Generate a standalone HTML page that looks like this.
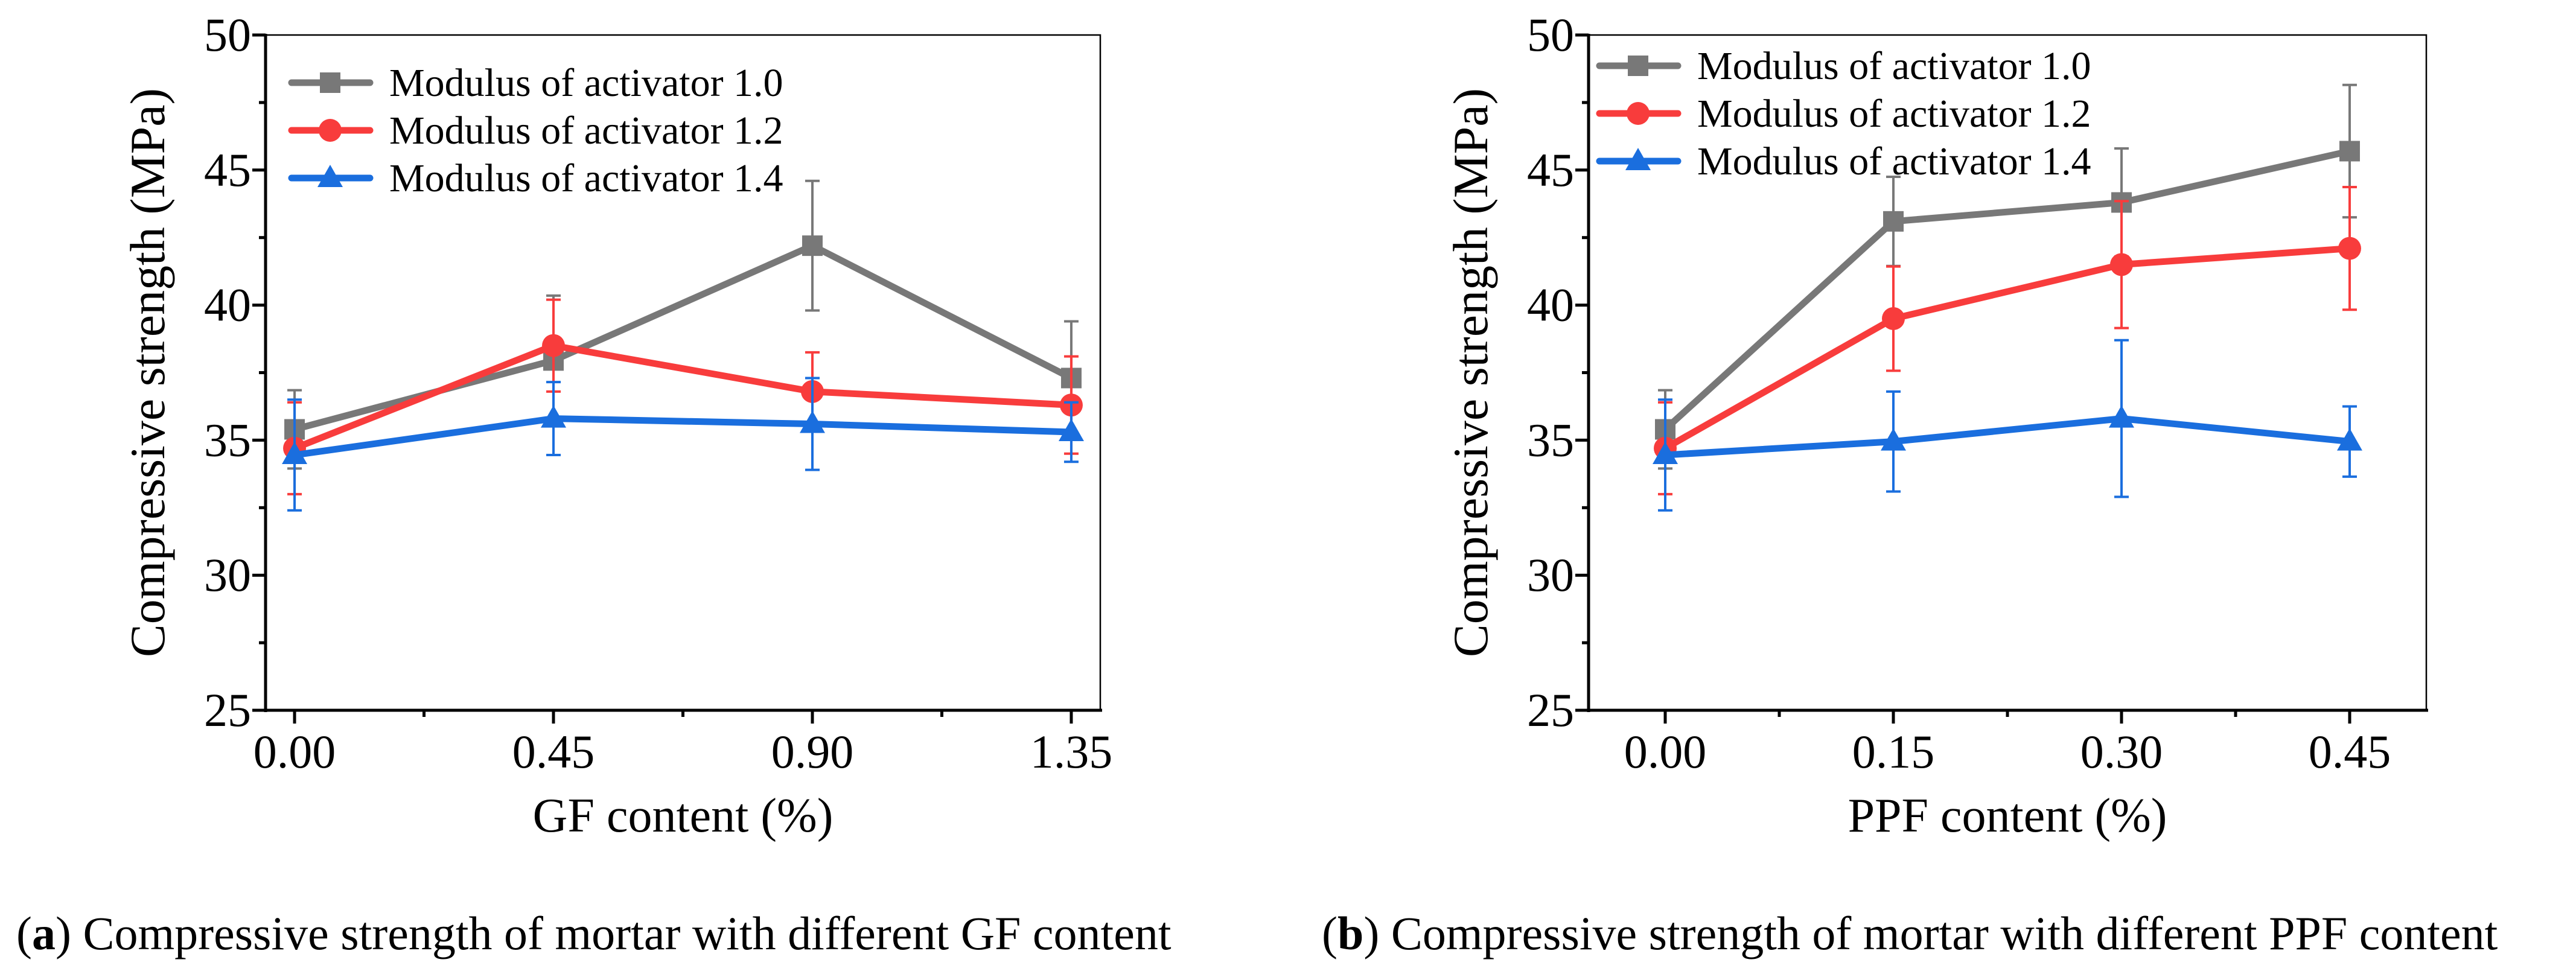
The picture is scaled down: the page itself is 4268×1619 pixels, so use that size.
<!DOCTYPE html>
<html><head><meta charset="utf-8">
<style>
html,body{margin:0;padding:0;background:#fff;}
svg{display:block;}
text{font-family:"Liberation Serif","DejaVu Serif",serif;}
</style></head>
<body>
<svg id="fig" width="4268" height="1619" viewBox="0 0 4268 1619" xmlns="http://www.w3.org/2000/svg" font-family="Liberation Serif, serif">
<text x="27" y="1573" font-size="78" font-family="Liberation Serif, serif"><tspan>(</tspan><tspan font-weight="bold">a</tspan><tspan>) Compressive strength of mortar with different GF content</tspan></text>
<text x="2190" y="1573" font-size="78" font-family="Liberation Serif, serif"><tspan>(</tspan><tspan font-weight="bold">b</tspan><tspan>) Compressive strength of mortar with different PPF content</tspan></text>
</svg>
<script>
const seriesNames = ["Modulus of activator 1.0","Modulus of activator 1.2","Modulus of activator 1.4"];
const yTicks = [25,30,35,40,45,50];
const catsA = [0.00,0.45,0.90,1.35];
const tickLabelsA = ["0.00","0.45","0.90","1.35"];
const grayA = [35.4,37.95,42.2,37.3];
const grayErrA = [1.45,2.4,2.4,2.1];
const redA = [34.7,38.5,36.8,36.3];
const redErrA = [1.7,1.7,1.45,1.8];
const blueA = [34.45,35.8,35.6,35.3];
const blueErrA = [2.05,1.35,1.7,1.1];
const catsB = [0.00,0.15,0.30,0.45];
const tickLabelsB = ["0.00","0.15","0.30","0.45"];
const grayB = [35.4,43.1,43.8,45.7];
const grayErrB = [1.45,1.65,2.0,2.45];
const redB = [34.7,39.5,41.5,42.1];
const redErrB = [1.7,1.93,2.35,2.27];
const blueB = [34.45,34.95,35.8,34.95];
const blueErrB = [2.05,1.85,2.9,1.3];

const NS="http://www.w3.org/2000/svg";
const svg=document.getElementById('fig');
const colors=["#787878","#f83c3c","#1a6ede"];
const FF="Liberation Serif, serif";
function mk(tag,attrs,parent){const e=document.createElementNS(NS,tag);for(const k in attrs)e.setAttribute(k,attrs[k]);if(tag==='text')e.setAttribute('font-family',FF);(parent||svg).appendChild(e);return e;}
function marker(g,kind,cx,cy,col){
  let m;
  if(kind===0){m=mk('rect',{x:cx-17,y:cy-17,width:34,height:34,fill:col},g);}
  else if(kind===1){m=mk('circle',{cx:cx,cy:cy,r:19,fill:col},g);}
  else {m=mk('polygon',{points:`${cx},${cy-22} ${cx+21},${cy+15} ${cx-21},${cy+15}`,fill:col},g);}
  return m;
}
function chart(cfg){
  const {L,R,T,B,xmin,xmax,cats,labels,series,errs,title,legX,legY,name}=cfg;
  const g=mk('g',{});
  
  
  const xs=v=>L+(v-xmin)/(xmax-xmin)*(R-L);
  const ys=v=>B-(v-25)/(50-25)*(B-T);
  const fr=mk('rect',{x:L,y:T,width:R-L,height:B-T,fill:'none',stroke:'#000','stroke-width':2.5},g);
  
  
  const ya=mk('line',{x1:L,y1:T-2,x2:L,y2:B+3,stroke:'#000','stroke-width':5},g);
  
  
  const xa=mk('line',{x1:L-20,y1:B,x2:R+3,y2:B,stroke:'#000','stroke-width':5},g);
  
  
  yTicks.forEach(v=>{
    const t=mk('line',{x1:L-22,y1:ys(v),x2:L,y2:ys(v),stroke:'#000','stroke-width':5},g);
    
    
    const tx=mk('text',{x:L-24,y:ys(v)+26,'font-size':78,'text-anchor':'end'},g);
    tx.textContent=v;
    
    
    if(v<50){const m=mk('line',{x1:L-11,y1:ys(v+2.5),x2:L,y2:ys(v+2.5),stroke:'#000','stroke-width':5},g);
      
      }
  });
  cats.forEach((c,i)=>{
    const t=mk('line',{x1:xs(c),y1:B,x2:xs(c),y2:B+22,stroke:'#000','stroke-width':5},g);
    
    
    const tx=mk('text',{x:xs(c),y:B+95,'font-size':78,'text-anchor':'middle'},g);
    tx.textContent=labels[i];
    
    
    if(i<cats.length-1){const mid=(c+cats[i+1])/2;
      const m=mk('line',{x1:xs(mid),y1:B,x2:xs(mid),y2:B+11,stroke:'#000','stroke-width':5},g);
      
      }
  });
  const xt=mk('text',{x:(L+R)/2,y:B+201,'font-size':80,'text-anchor':'middle'},g);
  xt.textContent=title;
  
  
  const yt=mk('text',{x:0,y:0,'font-size':82,'text-anchor':'middle',transform:`translate(${L-168},${(T+B)/2}) rotate(-90)`},g);
  yt.textContent='Compressive strength (MPa)';
  
  
  series.forEach((vals,si)=>{
    const sg=mk('g',{},g);
    
    
    const col=colors[si];
    vals.forEach((v,i)=>{
      const x=xs(cats[i]),e=errs[si][i];
      const eb=mk('path',{d:`M${x},${ys(v+e)}V${ys(v-e)}M${x-12},${ys(v+e)}H${x+12}M${x-12},${ys(v-e)}H${x+12}`,stroke:col,'stroke-width':4,fill:'none'},sg);
      
      
    });
    const pts=vals.map((v,i)=>`${xs(cats[i])},${ys(v)}`).join(' ');
    const pl=mk('polyline',{points:pts,fill:'none',stroke:col,'stroke-width':11,'stroke-linejoin':'round'},sg);
    
    
    vals.forEach((v,i)=>{
      const m=marker(sg,si,xs(cats[i]),ys(v),col);
      
      
    });
    const ly=legY+si*79;
    const lg=mk('g',{},g);
    
    
    mk('line',{x1:legX,y1:ly,x2:legX+130,y2:ly,stroke:col,'stroke-width':11,'stroke-linecap':'round'},lg);
    marker(lg,si,legX+64,ly,col);
    const lt=mk('text',{x:legX+162,y:ly+22,'font-size':66},lg);
    lt.textContent=seriesNames[si];
  });
}
chart({name:'chart-a',L:440,R:1823,T:58,B:1177,xmin:-0.0504,xmax:1.4004,cats:catsA,labels:tickLabelsA,
  series:[grayA,redA,blueA],errs:[grayErrA,redErrA,blueErrA],title:'GF content (%)',legX:483,legY:137});
chart({name:'chart-b',L:2632,R:4020,T:58,B:1177,xmin:-0.0504,xmax:0.5004,cats:catsB,labels:tickLabelsB,
  series:[grayB,redB,blueB],errs:[grayErrB,redErrB,blueErrB],title:'PPF content (%)',legX:2650,legY:109});
</script>
</body></html>
